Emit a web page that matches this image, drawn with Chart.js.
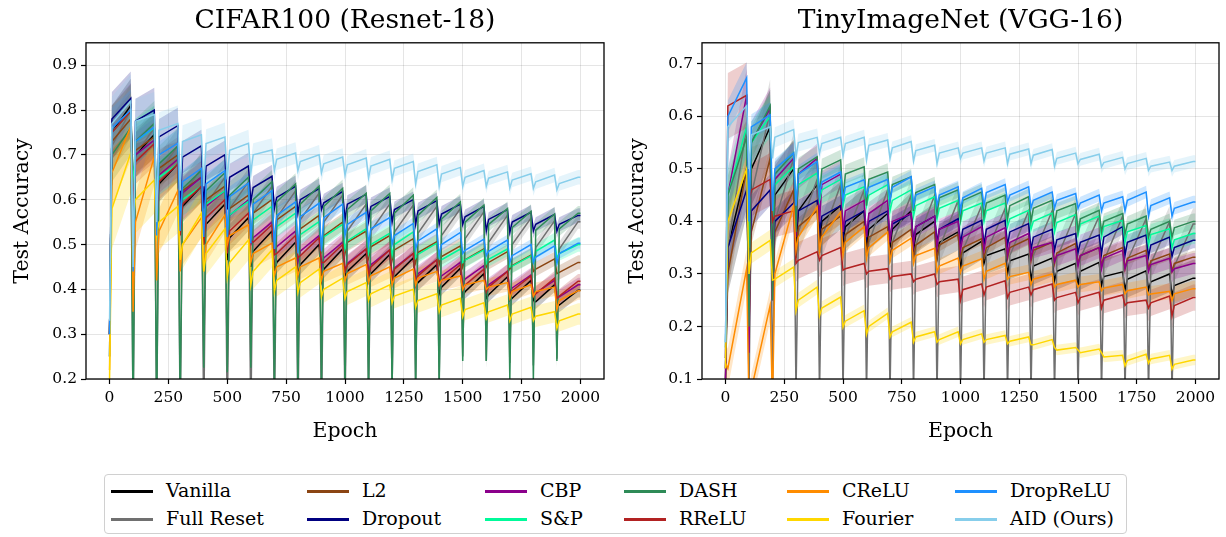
<!DOCTYPE html>
<html>
<head>
<meta charset="utf-8">
<script src="https://cdn.jsdelivr.net/npm/chart.js@4.4.1/dist/chart.umd.min.js"></script>
<style>
  body { margin: 0; background: #fff; width: 1226px; height: 537px; overflow: hidden; position: relative; font-family: 'DejaVu Serif', serif; }
  canvas { position: absolute; top: 0; }
  #cifar { left: 0; }
  #tiny { left: 615px; }
  #legend { position: absolute; left: 104px; top: 474px; width: 1021px; height: 58px; border: 1px solid #d0d0d0; border-radius: 4px; }
  .handle { position: absolute; width: 42px; height: 3px; }
  .label { position: absolute; font-size: 19px; line-height: 20px; color: #000; white-space: nowrap; }
</style>
</head>
<body>
<canvas id="cifar" width="615" height="460"></canvas>
<canvas id="tiny" width="611" height="460"></canvas>
<div id="legend"></div>
<script>
// Series (legend order)
const seriesNames = ['Vanilla', 'Full Reset', 'L2', 'Dropout', 'CBP', 'S&P', 'DASH', 'RReLU', 'CReLU', 'Fourier', 'DropReLU', 'AID (Ours)'];
const seriesColors = ['#000000', '#707070', '#8b4513', '#000080', '#8b008b', '#00fa9a', '#2e8b57', '#b22222', '#ff8c00', '#ffd700', '#1e90ff', '#87ceeb'];

// Tasks: 20 tasks of 100 epochs; per task we keep the dip at the task start,
// the value just after recovery and the value at the end of the task
const taskLen = 100;
const sampleOffsets = [0, 10, 90];
const xTicks = [0, 250, 500, 750, 1000, 1250, 1500, 1750, 2000];
const cifarYTicks = [0.2, 0.3, 0.4, 0.5, 0.6, 0.7, 0.8, 0.9];
const tinyYTicks = [0.1, 0.2, 0.3, 0.4, 0.5, 0.6, 0.7];

// ---- CIFAR100 (Resnet-18) ----
const cifarVanillaLow  = [.30,.62,.58,.53,.50,.465,.45,.44,.43,.42,.43,.43,.42,.41,.39,.385,.38,.375,.375,.37];
const cifarVanillaRise = [.75,.70,.635,.585,.545,.515,.485,.46,.455,.445,.44,.435,.428,.415,.405,.395,.388,.38,.372,.365];
const cifarVanillaTop  = [.81,.745,.68,.63,.59,.56,.53,.505,.50,.49,.48,.478,.47,.455,.447,.435,.428,.42,.41,.398];

const cifarResetLow  = [.25,.10,.10,.10,.10,.10,.10,.10,.10,.10,.12,.15,.18,.18,.20,.25,.24,.236,.23,.245];
const cifarResetRise = [.72,.70,.66,.61,.59,.58,.57,.56,.555,.55,.53,.53,.528,.525,.52,.513,.505,.50,.493,.49];
const cifarResetTop  = [.80,.76,.72,.67,.65,.64,.63,.62,.615,.61,.59,.59,.588,.585,.58,.573,.565,.559,.553,.551];

const cifarL2Low  = [.30,.60,.58,.55,.53,.52,.51,.50,.49,.48,.48,.47,.465,.46,.455,.45,.45,.445,.44,.435];
const cifarL2Rise = [.73,.71,.67,.62,.60,.58,.57,.555,.535,.52,.505,.495,.488,.482,.473,.466,.46,.453,.445,.438];
const cifarL2Top  = [.78,.74,.70,.65,.63,.61,.60,.585,.565,.55,.53,.52,.513,.506,.497,.49,.484,.476,.468,.46];

const cifarDropoutLow  = [.30,.50,.55,.58,.58,.578,.595,.58,.57,.578,.555,.553,.55,.545,.545,.545,.53,.527,.53,.53];
const cifarDropoutRise = [.78,.775,.74,.695,.675,.65,.627,.605,.60,.593,.59,.585,.578,.575,.568,.562,.556,.55,.545,.545];
const cifarDropoutTop  = [.826,.80,.765,.72,.70,.675,.652,.63,.625,.618,.612,.607,.60,.598,.59,.585,.578,.572,.567,.565];

const cifarCbpLow  = [.30,.60,.60,.57,.54,.52,.50,.48,.46,.45,.44,.44,.43,.42,.415,.41,.40,.395,.385,.38];
const cifarCbpRise = [.75,.70,.655,.615,.585,.565,.515,.495,.485,.47,.458,.455,.448,.435,.43,.423,.41,.403,.392,.383];
const cifarCbpTop  = [.80,.733,.69,.65,.62,.60,.55,.53,.52,.505,.49,.488,.48,.466,.46,.453,.44,.432,.42,.41];

const cifarSnpLow  = [.30,.62,.60,.56,.54,.53,.52,.50,.49,.49,.49,.48,.475,.47,.47,.46,.457,.45,.46,.47];
const cifarSnpRise = [.75,.73,.65,.60,.59,.566,.555,.54,.522,.517,.508,.50,.50,.478,.466,.465,.467,.452,.485,.48];
const cifarSnpTop  = [.797,.76,.68,.63,.62,.596,.585,.57,.551,.545,.535,.525,.528,.503,.49,.488,.49,.475,.51,.50];

const cifarDashLow  = [.25,.12,.12,.14,.225,.215,.225,.18,.18,.18,.18,.17,.18,.18,.18,.24,.24,.20,.20,.24];
const cifarDashRise = [.70,.73,.68,.625,.62,.61,.60,.595,.59,.585,.578,.575,.57,.565,.557,.55,.545,.538,.532,.535];
const cifarDashTop  = [.76,.77,.72,.665,.66,.65,.64,.635,.63,.625,.614,.614,.61,.605,.595,.588,.58,.574,.568,.57];

const cifarRreluLow  = [.30,.58,.55,.52,.50,.48,.51,.477,.47,.46,.44,.43,.42,.41,.41,.40,.395,.39,.385,.38];
const cifarRreluRise = [.75,.685,.64,.59,.56,.53,.505,.48,.475,.46,.455,.45,.445,.43,.42,.41,.405,.397,.39,.385];
const cifarRreluTop  = [.797,.725,.68,.63,.60,.57,.544,.52,.515,.50,.49,.488,.48,.466,.455,.445,.44,.43,.425,.418];

const cifarCreluLow  = [.22,.35,.42,.44,.44,.50,.46,.43,.43,.42,.42,.415,.41,.41,.41,.40,.40,.38,.385,.355];
const cifarCreluRise = [.66,.55,.53,.50,.50,.52,.48,.45,.45,.44,.435,.43,.425,.425,.42,.41,.405,.395,.395,.375];
const cifarCreluTop  = [.763,.696,.62,.56,.566,.544,.503,.47,.47,.458,.455,.45,.445,.44,.43,.42,.415,.41,.405,.397];

const cifarFourierLow  = [.20,.55,.52,.466,.44,.428,.41,.395,.393,.384,.38,.375,.37,.36,.35,.339,.335,.33,.33,.313];
const cifarFourierRise = [.58,.60,.55,.50,.48,.46,.44,.42,.415,.40,.395,.39,.385,.375,.365,.355,.35,.345,.34,.33];
const cifarFourierTop  = [.704,.644,.585,.57,.535,.51,.488,.45,.445,.425,.415,.41,.40,.39,.38,.37,.365,.36,.35,.345];

const cifarDroreluLow  = [.30,.44,.52,.53,.517,.517,.503,.49,.48,.485,.52,.50,.50,.49,.475,.48,.475,.46,.46,.458];
const cifarDroreluRise = [.76,.73,.70,.64,.635,.607,.59,.565,.562,.56,.545,.535,.52,.508,.50,.487,.485,.475,.472,.48];
const cifarDroreluTop  = [.80,.762,.726,.67,.665,.637,.62,.595,.592,.59,.572,.56,.547,.535,.527,.512,.51,.50,.497,.503];

const cifarAidLow  = [.33,.45,.55,.62,.63,.645,.66,.665,.665,.66,.655,.649,.645,.635,.63,.63,.63,.626,.625,.622];
const cifarAidRise = [.77,.775,.755,.73,.725,.71,.70,.69,.685,.68,.678,.675,.67,.663,.657,.65,.648,.644,.64,.636];
const cifarAidTop  = [.82,.79,.77,.745,.74,.726,.711,.704,.70,.695,.693,.69,.685,.678,.672,.665,.662,.658,.655,.65];

// std band half-width per series, and how much wider the bands are per task
const cifarSpread = [.02, .02, .02, .02, .02, .02, .02, .02, .025, .03, .015, .02];
const cifarTaskScale = [3, 2.5, 2, 1.8, 1.6, 1.5, 1.3, 1.2, 1.1, 1, 1, 1, .9, .9, .9, .8, .8, .8, .8, .8];

// ---- TinyImageNet (VGG-16) ----
const tinyVanillaLow  = [.10,.20,.30,.35,.36,.36,.35,.35,.345,.33,.31,.32,.30,.287,.287,.28,.278,.27,.27,.258];
const tinyVanillaRise = [.35,.50,.45,.42,.40,.39,.385,.385,.375,.36,.34,.335,.325,.315,.305,.305,.295,.29,.285,.278];
const tinyVanillaTop  = [.50,.58,.50,.47,.43,.42,.415,.42,.40,.38,.362,.348,.338,.33,.32,.322,.304,.306,.30,.292];

const tinyResetLow  = [.12,.07,.07,.07,.07,.07,.07,.07,.07,.07,.07,.07,.07,.07,.07,.07,.07,.07,.07,.07];
const tinyResetRise = [.35,.45,.40,.38,.37,.37,.36,.36,.355,.35,.345,.34,.335,.335,.33,.33,.325,.325,.32,.315];
const tinyResetTop  = [.58,.61,.52,.48,.47,.46,.46,.45,.45,.44,.43,.425,.42,.42,.415,.41,.41,.405,.40,.395];

const tinyL2Low  = [.10,.20,.25,.33,.34,.34,.335,.33,.33,.33,.33,.33,.33,.325,.32,.32,.315,.31,.31,.305];
const tinyL2Rise = [.30,.38,.38,.39,.385,.375,.37,.36,.355,.355,.35,.35,.35,.345,.34,.335,.335,.33,.325,.32];
const tinyL2Top  = [.50,.52,.46,.42,.41,.40,.39,.385,.38,.375,.367,.37,.367,.36,.358,.35,.35,.345,.338,.332];

const tinyDropoutLow  = [.12,.30,.32,.38,.38,.37,.37,.365,.36,.36,.358,.355,.355,.346,.345,.34,.338,.335,.333,.333];
const tinyDropoutRise = [.35,.42,.40,.42,.41,.40,.40,.395,.39,.385,.385,.385,.38,.37,.365,.36,.37,.36,.355,.35];
const tinyDropoutTop  = [.46,.46,.435,.44,.43,.42,.42,.415,.41,.405,.402,.402,.396,.385,.377,.374,.39,.374,.37,.364];

const tinyCbpLow  = [.10,.15,.25,.37,.40,.38,.37,.36,.355,.35,.345,.345,.335,.33,.323,.315,.31,.31,.305,.304];
const tinyCbpRise = [.45,.55,.48,.49,.47,.42,.415,.40,.39,.385,.37,.37,.36,.35,.335,.335,.33,.325,.318,.31];
const tinyCbpTop  = [.64,.615,.52,.52,.49,.44,.44,.415,.41,.40,.39,.388,.377,.36,.348,.35,.345,.335,.33,.32];

const tinySnpLow  = [.16,.35,.40,.44,.44,.43,.43,.42,.41,.405,.40,.40,.39,.385,.38,.375,.37,.36,.355,.35];
const tinySnpRise = [.45,.55,.47,.47,.46,.45,.45,.44,.43,.425,.42,.42,.405,.40,.398,.395,.39,.38,.375,.365];
const tinySnpTop  = [.58,.60,.504,.492,.48,.466,.47,.46,.447,.44,.435,.435,.421,.416,.413,.41,.402,.392,.386,.377];

const tinyDashLow  = [.14,.20,.25,.38,.447,.44,.43,.44,.42,.415,.405,.41,.405,.40,.395,.38,.38,.375,.37,.37];
const tinyDashRise = [.45,.55,.49,.50,.50,.49,.48,.47,.455,.445,.44,.435,.43,.425,.42,.405,.40,.395,.385,.388];
const tinyDashTop  = [.56,.62,.53,.523,.517,.504,.494,.485,.47,.46,.456,.45,.447,.44,.434,.421,.415,.41,.40,.40];

const tinyRreluLow  = [.14,.44,.40,.32,.326,.307,.30,.29,.285,.28,.25,.26,.255,.26,.25,.245,.235,.24,.235,.22];
const tinyRreluRise = [.62,.46,.41,.326,.335,.31,.305,.295,.29,.285,.27,.275,.265,.27,.255,.255,.25,.245,.245,.24];
const tinyRreluTop  = [.64,.48,.42,.342,.35,.32,.31,.30,.30,.29,.281,.287,.275,.281,.265,.265,.26,.25,.258,.255];

const tinyCreluLow  = [.13,.05,.05,.345,.345,.336,.33,.325,.32,.304,.303,.29,.29,.28,.275,.275,.268,.262,.26,.25];
const tinyCreluRise = [.12,.08,.30,.37,.37,.36,.35,.345,.335,.315,.315,.305,.295,.29,.28,.28,.273,.268,.262,.262];
const tinyCreluTop  = [.31,.24,.43,.428,.418,.39,.38,.368,.349,.33,.329,.32,.303,.30,.288,.285,.28,.275,.267,.272];

const tinyFourierLow  = [.12,.30,.288,.23,.22,.199,.185,.18,.17,.17,.167,.17,.167,.165,.16,.155,.15,.125,.13,.119];
const tinyFourierRise = [.40,.34,.29,.25,.235,.21,.20,.19,.18,.175,.175,.175,.172,.165,.155,.15,.142,.135,.138,.128];
const tinyFourierTop  = [.50,.364,.313,.275,.256,.23,.225,.208,.19,.19,.186,.183,.18,.175,.16,.157,.145,.147,.145,.136];

const tinyDroreluLow  = [.17,.40,.42,.43,.45,.44,.45,.44,.43,.43,.421,.43,.437,.425,.425,.425,.42,.42,.41,.41];
const tinyDroreluRise = [.60,.58,.50,.49,.475,.465,.465,.465,.45,.45,.445,.455,.45,.44,.44,.435,.435,.44,.43,.425];
const tinyDroreluTop  = [.673,.603,.53,.514,.494,.479,.48,.485,.466,.466,.463,.47,.466,.456,.453,.45,.447,.456,.445,.437];

const tinyAidLow  = [.17,.50,.52,.523,.53,.525,.517,.52,.515,.51,.52,.515,.51,.51,.505,.51,.504,.50,.497,.497];
const tinyAidRise = [.58,.565,.56,.55,.548,.548,.545,.54,.535,.53,.53,.53,.528,.526,.52,.518,.512,.51,.505,.505];
const tinyAidTop  = [.62,.58,.575,.56,.56,.56,.555,.552,.545,.54,.54,.54,.538,.537,.53,.528,.522,.52,.513,.514];

const tinySpread = [.035, .03, .012, .015, .02, .02, .015, .025, .015, .01, .012, .012];
const tinyTaskScale = [2.5, 2, 1.6, 1.4, 1.3, 1.2, 1.1, 1, 1, 1, 1, 1, 1, 1, 1, 1, 1, 1, 1, 1];

const FONT = "'DejaVu Serif', serif";

function taskPoints(low, rise, top) {
    const pts = [];
    for (let k = 0; k < top.length; k++) {
        const start = k * taskLen;
        pts.push({x: start + sampleOffsets[0], y: low[k]});
        pts.push({x: start + sampleOffsets[1], y: rise[k]});
        pts.push({x: start + sampleOffsets[2], y: top[k]});
    }
    pts.push({x: top.length * taskLen, y: top[top.length - 1]});
    return pts;
}

function alpha(hex, a) {
    const n = parseInt(hex.slice(1), 16);
    return `rgba(${(n >> 16) & 255}, ${(n >> 8) & 255}, ${n & 255}, ${a})`;
}

function buildDatasets(lows, rises, tops, spread, taskScale) {
    const bands = [], lines = [];
    seriesNames.forEach((name, i) => {
        const pts = taskPoints(lows[i], rises[i], tops[i]);
        const half = pts.map(p => spread[i] * taskScale[Math.min(Math.floor(p.x / taskLen), taskScale.length - 1)]);
        const common = {pointRadius: 0, borderWidth: 0, borderColor: 'transparent', tension: 0, order: 100 + 11 - i};
        bands.push({...common, data: pts.map((p, j) => ({x: p.x, y: p.y + half[j]})), fill: false});
        bands.push({...common, data: pts.map((p, j) => ({x: p.x, y: p.y - half[j]})), fill: '-1', backgroundColor: alpha(seriesColors[i], 0.22)});
        lines.push({
            label: name, data: pts, borderColor: seriesColors[i], borderWidth: 1.5,
            pointRadius: 0, tension: 0, fill: false, order: 11 - i
        });
    });
    return bands.concat(lines);
}

// Frame around the plot area
const framePlugin = {
    id: 'frame',
    afterDatasetsDraw(chart) {
        const {ctx, chartArea: a} = chart;
        ctx.save();
        ctx.strokeStyle = '#000';
        ctx.lineWidth = 1.3;
        ctx.strokeRect(a.left, a.top, a.right - a.left, a.bottom - a.top);
        ctx.restore();
    }
};

function makeChart(id, title, datasets, yMin, yMax, yTicks, yWidth, padRight) {
    return new Chart(document.getElementById(id), {
        type: 'line',
        data: {datasets},
        plugins: [framePlugin],
        options: {
            responsive: false,
            animation: false,
            devicePixelRatio: 1,
            layout: {padding: {left: 0, right: padRight, top: 0, bottom: 0}},
            plugins: {
                legend: {display: false},
                tooltip: {enabled: false},
                title: {
                    display: true, text: title, fullSize: false, color: '#000',
                    font: {family: FONT, size: 26.5, weight: 'normal'},
                    padding: {top: 5, bottom: 6}
                }
            },
            scales: {
                x: {
                    type: 'linear', min: -100, max: 2100,
                    afterBuildTicks: s => { s.ticks = xTicks.map(v => ({value: v})); },
                    afterFit: s => { s.height = 81; },
                    ticks: {color: '#000', font: {family: FONT, size: 15.5}, padding: 5, autoSkip: false, maxRotation: 0,
                        callback: v => String(v)},
                    grid: {color: 'rgba(0,0,0,0.1)', lineWidth: 1, tickColor: '#000', tickLength: 5, tickWidth: 1.2},
                    border: {display: false},
                    title: {display: true, text: 'Epoch', color: '#000', font: {family: FONT, size: 20.5}, padding: {top: 0, bottom: 16}}
                },
                y: {
                    min: yMin, max: yMax,
                    afterBuildTicks: s => { s.ticks = yTicks.map(v => ({value: v})); },
                    afterFit: s => { s.width = yWidth; },
                    ticks: {color: '#000', font: {family: FONT, size: 15.5}, padding: 4, callback: v => v.toFixed(1)},
                    grid: {color: 'rgba(0,0,0,0.1)', lineWidth: 1, tickColor: '#000', tickLength: 5, tickWidth: 1.2},
                    border: {display: false},
                    title: {display: true, text: 'Test Accuracy', color: '#000', font: {family: FONT, size: 20.5}, padding: {top: 10, bottom: 0}}
                }
            }
        }
    });
}

const cifarLows  = [cifarVanillaLow, cifarResetLow, cifarL2Low, cifarDropoutLow, cifarCbpLow, cifarSnpLow, cifarDashLow, cifarRreluLow, cifarCreluLow, cifarFourierLow, cifarDroreluLow, cifarAidLow];
const cifarRises = [cifarVanillaRise, cifarResetRise, cifarL2Rise, cifarDropoutRise, cifarCbpRise, cifarSnpRise, cifarDashRise, cifarRreluRise, cifarCreluRise, cifarFourierRise, cifarDroreluRise, cifarAidRise];
const cifarTops  = [cifarVanillaTop, cifarResetTop, cifarL2Top, cifarDropoutTop, cifarCbpTop, cifarSnpTop, cifarDashTop, cifarRreluTop, cifarCreluTop, cifarFourierTop, cifarDroreluTop, cifarAidTop];

const tinyLows  = [tinyVanillaLow, tinyResetLow, tinyL2Low, tinyDropoutLow, tinyCbpLow, tinySnpLow, tinyDashLow, tinyRreluLow, tinyCreluLow, tinyFourierLow, tinyDroreluLow, tinyAidLow];
const tinyRises = [tinyVanillaRise, tinyResetRise, tinyL2Rise, tinyDropoutRise, tinyCbpRise, tinySnpRise, tinyDashRise, tinyRreluRise, tinyCreluRise, tinyFourierRise, tinyDroreluRise, tinyAidRise];
const tinyTops  = [tinyVanillaTop, tinyResetTop, tinyL2Top, tinyDropoutTop, tinyCbpTop, tinySnpTop, tinyDashTop, tinyRreluTop, tinyCreluTop, tinyFourierTop, tinyDroreluTop, tinyAidTop];

makeChart('cifar', 'CIFAR100 (Resnet-18)', buildDatasets(cifarLows, cifarRises, cifarTops, cifarSpread, cifarTaskScale),
    0.2, 0.95, cifarYTicks, 86, 11);
makeChart('tiny', 'TinyImageNet (VGG-16)', buildDatasets(tinyLows, tinyRises, tinyTops, tinySpread, tinyTaskScale),
    0.1, 0.74, tinyYTicks, 87, 7);

// Legend: 6 columns x 2 rows, column-major like matplotlib
const legendHandleX = [111, 307, 485, 624, 787, 955];
const legendRowY = [491, 519];
const legend = document.getElementById('legend');
seriesNames.forEach((name, i) => {
    const col = Math.floor(i / 2), row = i % 2;
    const left = legendHandleX[col] - 105, top = legendRowY[row] - 475;
    const h = document.createElement('div');
    h.className = 'handle';
    h.style.left = left + 'px';
    h.style.top = (top - 1.5) + 'px';
    h.style.background = seriesColors[i];
    const t = document.createElement('div');
    t.className = 'label';
    t.style.left = (left + 55) + 'px';
    t.style.top = (top - 11) + 'px';
    t.textContent = name;
    legend.appendChild(h);
    legend.appendChild(t);
});
</script>
</body>
</html>
